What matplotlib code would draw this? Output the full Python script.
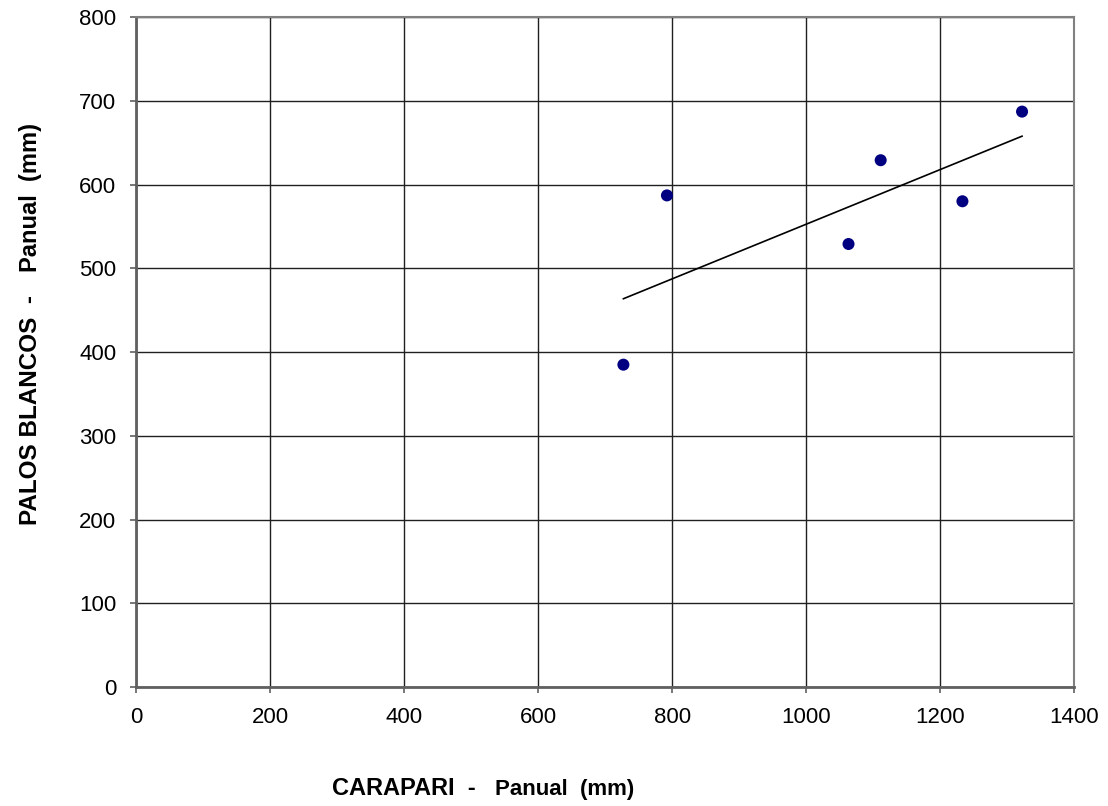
import numpy as np
import matplotlib
matplotlib.use("Agg")
import matplotlib.pyplot as plt

# Annual precipitation (mm): Carapari (x) vs Palos Blancos (y)
carapari = [727, 792, 1063, 1111, 1233, 1322]
palos_blancos = [385, 587, 529, 629, 580, 687]
x_ticks = [0, 200, 400, 600, 800, 1000, 1200, 1400]
y_ticks = [0, 100, 200, 300, 400, 500, 600, 700, 800]

plt.rcParams['font.family'] = ['Liberation Sans', 'DejaVu Sans']

W, H = 1108, 806
fig = plt.figure(figsize=(W / 100, H / 100), dpi=100)
ax = fig.add_axes([0.123, 0.1473, 0.8466, 0.8317])

ax.set_xlim(0, 1400)
ax.set_ylim(0, 800)
ax.set_xticks(x_ticks)
ax.set_yticks(y_ticks)
ax.grid(True, color='#202020', linewidth=1.0)
ax.set_axisbelow(True)

for side in ['top', 'right']:
    ax.spines[side].set_color('#808080')
    ax.spines[side].set_linewidth(1.5)
for side in ['left', 'bottom']:
    ax.spines[side].set_color('#606060')
    ax.spines[side].set_linewidth(2.0)

ax.tick_params(axis='both', direction='out', length=4.5, width=1.2,
               color='#606060', labelsize=16, pad=10)

# Linear trend line over the data range
xs = np.array(carapari, dtype=float)
ys = np.array(palos_blancos, dtype=float)
slope, intercept = np.polyfit(xs, ys, 1)
xl = np.array([xs.min(), xs.max()])
ax.plot(xl, slope * xl + intercept, color='black', linewidth=1.2, zorder=3)

ax.scatter(carapari, palos_blancos, s=75, color='#000080', zorder=4,
           edgecolors='none')

# Axis titles: station name plus a smaller "Panual (mm)" part
xb = 1 - 795 / H
fig.text(332 / W, xb, 'CARAPARI  -', fontsize=17, fontweight='bold',
         ha='left', va='baseline')
fig.text(495 / W, xb, 'Panual  (mm)', fontsize=16, fontweight='bold',
         ha='left', va='baseline')

yx = 37 / W
fig.text(yx, 1 - 525 / H, 'PALOS BLANCOS  -', fontsize=17.5,
         fontweight='bold', rotation=90, rotation_mode='anchor',
         ha='left', va='baseline')
fig.text(yx, 1 - 272 / H, 'Panual  (mm)', fontsize=17, fontweight='bold',
         rotation=90, rotation_mode='anchor', ha='left', va='baseline')

fig.savefig('out.png', dpi=100)
